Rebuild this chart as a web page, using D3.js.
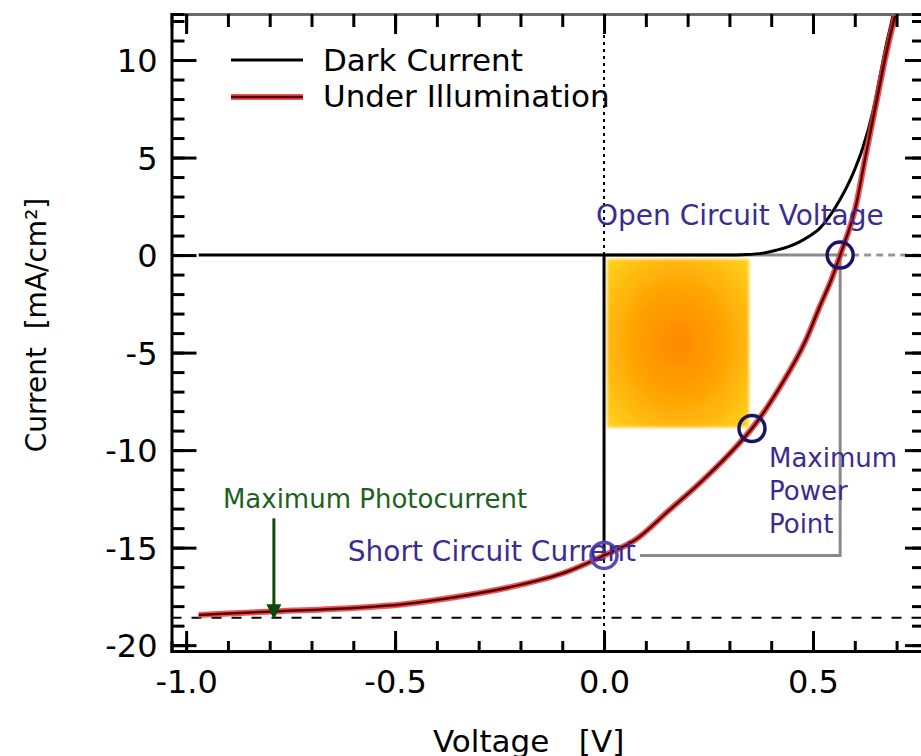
<!DOCTYPE html>
<html>
<head>
<meta charset="utf-8">
<script src="https://cdn.jsdelivr.net/npm/d3@7"></script>
<style>
  html, body { margin: 0; padding: 0; background: #fff; }
  svg { display: block; font-family: "DejaVu Sans", sans-serif; }
</style>
</head>
<body>
<svg id="chart" width="921" height="756"></svg>
<script>
// values
var voltageTicks = [-1.0, -0.5, 0.0, 0.5];
var voltageLabels = ['-1.0', '-0.5', '0.0', '0.5'];
var currentTicks = [-20, -15, -10, -5, 0, 5, 10];

var darkV = [-0.97, 0.30, 0.332, 0.38, 0.412, 0.44, 0.468, 0.49, 0.516, 0.564, 0.596, 0.62, 0.644, 0.66, 0.676, 0.688, 0.70];
var darkI = [0, 0, 0.02, 0.1, 0.25, 0.42, 0.68, 0.95, 1.37, 2.82, 4.19, 5.55, 7.44, 9.14, 10.86, 11.96, 13.2];

var lightV = [-0.97, -0.9, -0.79, -0.6, -0.48, -0.35, -0.22, -0.09, 0, 0.075, 0.155, 0.236, 0.315, 0.354, 0.42, 0.483, 0.516, 0.545, 0.565, 0.604, 0.624, 0.64, 0.656, 0.672, 0.692, 0.705];
var lightI = [-18.45, -18.38, -18.27, -18.1, -17.9, -17.52, -17.0, -16.25, -15.4, -14.6, -13.1, -11.55, -9.85, -8.89, -6.8, -4.36, -2.65, -1.2, 0, 2.65, 4.87, 6.58, 8.29, 10.0, 11.88, 13.0];

var isc = -15.4, voc = 0.565, vmp = 0.354, imp = -8.89;
var photoCurrent = -18.6, arrowV = -0.79, arrowTop = -13.5;

var svg = d3.select('#chart');
var plotLeft = 171.5, plotTop = 14, plotRight = 925, plotBottom = 651;

var x = d3.scaleLinear().domain([-1.035, 0.768]).range([plotLeft, plotRight]);
var y = d3.scaleLinear().domain([-20.3, 12.36]).range([plotBottom, plotTop]);

var defs = svg.append('defs');
defs.append('clipPath').attr('id', 'plot')
  .append('rect').attr('x', plotLeft).attr('y', plotTop)
  .attr('width', plotRight - plotLeft).attr('height', plotBottom - plotTop);

var grad = defs.append('radialGradient').attr('id', 'glow')
  .attr('cx', '50%').attr('cy', '50%').attr('r', '70%');
grad.append('stop').attr('offset', '0%').attr('stop-color', '#ff8800');
grad.append('stop').attr('offset', '45%').attr('stop-color', '#ffa200');
grad.append('stop').attr('offset', '100%').attr('stop-color', '#ffd21e');

defs.append('filter').attr('id', 'soft')
  .append('feGaussianBlur').attr('stdDeviation', 1.5);

defs.append('marker').attr('id', 'arrow')
  .attr('viewBox', '0 0 10 10').attr('refX', 9).attr('refY', 5)
  .attr('markerWidth', 5).attr('markerHeight', 5).attr('orient', 'auto')
  .append('path').attr('d', 'M0,0L10,5L0,10z').attr('fill', '#0b4a0b');

var plot = svg.append('g').attr('clip-path', 'url(#plot)');

// power rectangle
plot.append('rect')
  .attr('x', x(0) + 3).attr('y', y(0) + 4)
  .attr('width', x(vmp) - x(0) - 6).attr('height', y(imp) - y(0) - 5)
  .attr('fill', 'url(#glow)')
  .attr('filter', 'url(#soft)');

// reference lines
plot.append('line')
  .attr('x1', x(0)).attr('x2', x(0)).attr('y1', plotTop).attr('y2', plotBottom)
  .style('stroke', '#000').style('stroke-width', 2).style('stroke-dasharray', '3,4');

plot.append('line')
  .attr('x1', plotLeft).attr('x2', plotRight).attr('y1', y(photoCurrent)).attr('y2', y(photoCurrent))
  .style('stroke', '#000').style('stroke-width', 2).style('stroke-dasharray', '10,10');

plot.append('line')
  .attr('x1', x(voc)).attr('x2', plotRight).attr('y1', y(0)).attr('y2', y(0))
  .style('stroke', '#999').style('stroke-width', 3).style('stroke-dasharray', '7,5');

// grey Isc / Voc box
var sccLabel = svg.append('text')
  .attr('x', x(0) + 32).attr('y', y(isc) + 6)
  .attr('text-anchor', 'end')
  .style('font-size', '28px').style('fill', '#3b2c8f')
  .text('Short Circuit Current');
var sccEnd = x(0) + 36;

plot.append('path')
  .attr('d', 'M' + x(0) + ',' + y(0) + 'H' + x(voc) + 'V' + y(isc) + 'H' + sccEnd)
  .style('fill', 'none').style('stroke', '#8a8a8a').style('stroke-width', 3);

plot.append('line')
  .attr('x1', x(0)).attr('x2', x(0)).attr('y1', y(0)).attr('y2', y(isc))
  .style('stroke', '#000').style('stroke-width', 3);

// curves
var line = d3.line()
  .x(function(d) { return x(d[0]); })
  .y(function(d) { return y(d[1]); })
  .curve(d3.curveMonotoneX);

var dark = d3.zip(darkV, darkI);
var light = d3.zip(lightV, lightI);

plot.append('path').datum(dark).attr('d', line)
  .style('fill', 'none').style('stroke', '#000').style('stroke-width', 3);

plot.append('path').datum(light).attr('d', line)
  .style('fill', 'none').style('stroke', '#e8383a').style('stroke-width', 6).style('stroke-opacity', 0.85);
plot.append('path').datum(light).attr('d', line)
  .style('fill', 'none').style('stroke', '#5c0000').style('stroke-width', 2.5);

// photocurrent arrow
svg.append('line')
  .attr('x1', x(arrowV)).attr('x2', x(arrowV))
  .attr('y1', y(arrowTop)).attr('y2', y(photoCurrent))
  .attr('marker-end', 'url(#arrow)')
  .style('stroke', '#0b4a0b').style('stroke-width', 3);

// key points
var points = [[0, isc, '#5a48b8'], [vmp, imp, '#1a1466'], [voc, 0, '#1a1466']];
svg.selectAll('circle.pt')
  .data(points).enter()
  .append('circle')
  .attr('class', 'pt')
  .attr('cx', function(d) { return x(d[0]); })
  .attr('cy', function(d) { return y(d[1]); })
  .attr('r', 13)
  .style('fill', 'none')
  .style('stroke', function(d) { return d[2]; })
  .style('stroke-width', 3.5);

sccLabel.raise();

// annotations
svg.append('text')
  .attr('x', x(0) - 8).attr('y', y(0) - 30)
  .style('font-size', '28px').style('fill', '#3b2c8f')
  .text('Open Circuit Voltage');

var mpp = svg.append('text')
  .attr('x', x(vmp) + 17).attr('y', y(imp) + 39)
  .style('font-size', '26px').style('fill', '#3b2c8f');
['Maximum', 'Power', 'Point'].forEach(function(t, i) {
  mpp.append('tspan').attr('x', x(vmp) + 17).attr('dy', i ? 33 : 0).text(t);
});

svg.append('text')
  .attr('x', x(arrowV) - 51).attr('y', y(arrowTop) - 10)
  .style('font-size', '26px').style('fill', '#1f5f1f')
  .text('Maximum Photocurrent');

// axes with inward ticks
function styleAxis(g) {
  g.selectAll('.tick line').style('stroke', '#000').style('stroke-width', 3);
  g.selectAll('.domain').style('stroke-width', 3);
  g.selectAll('text').style('font-size', '32px').style('fill', '#000')
    .style('font-family', '"DejaVu Sans", sans-serif');
}

var minorV = d3.range(-10, 8).map(function(d) { return d / 10; });
var minorI = d3.range(-20, 13);

var bottomAxis = svg.append('g').attr('transform', 'translate(0,' + plotBottom + ')');
bottomAxis.call(d3.axisBottom(x).tickValues(minorV).tickSize(-10).tickFormat(''));
bottomAxis.append('g').call(d3.axisBottom(x).tickValues(voltageTicks).tickSize(-20)
  .tickFormat(function(d, i) { return voltageLabels[i]; }));
styleAxis(bottomAxis);
bottomAxis.selectAll('.domain').style('stroke', '#000');
bottomAxis.selectAll('g g .domain').remove();
bottomAxis.selectAll('text').attr('y', 42).attr('dy', 0);

var topAxis = svg.append('g').attr('transform', 'translate(0,' + plotTop + ')');
topAxis.call(d3.axisTop(x).tickValues(minorV).tickSize(-13).tickFormat(''));
topAxis.append('g').call(d3.axisTop(x).tickValues(voltageTicks).tickSize(-20).tickFormat(''));
styleAxis(topAxis);
topAxis.selectAll('.domain').style('stroke', '#6a6a6a');
topAxis.selectAll('g g .domain').remove();

var leftAxis = svg.append('g').attr('transform', 'translate(' + plotLeft + ',0)');
leftAxis.call(d3.axisLeft(y).tickValues(minorI).tickSize(-13).tickFormat(''));
leftAxis.append('g').call(d3.axisLeft(y).tickValues(currentTicks).tickSize(-25)
  .tickFormat(function(d) { return String(d); }));
styleAxis(leftAxis);
leftAxis.selectAll('.domain').style('stroke', '#000');
leftAxis.selectAll('g g .domain').remove();
leftAxis.selectAll('text').attr('x', -14).attr('dy', '0.36em');

var rightAxis = svg.append('g').attr('transform', 'translate(' + plotRight + ',0)');
rightAxis.call(d3.axisRight(y).tickValues(minorI).tickSize(-13).tickFormat(''));
rightAxis.append('g').call(d3.axisRight(y).tickValues(currentTicks).tickSize(-20).tickFormat(''));
styleAxis(rightAxis);
rightAxis.selectAll('g g .domain').remove();

// legend
var legend = svg.append('g');
legend.append('line').attr('x1', 231).attr('x2', 303).attr('y1', 60).attr('y2', 60)
  .style('stroke', '#000').style('stroke-width', 3);
legend.append('line').attr('x1', 231).attr('x2', 303).attr('y1', 97).attr('y2', 97)
  .style('stroke', '#e8383a').style('stroke-width', 6).style('stroke-opacity', 0.85);
legend.append('line').attr('x1', 231).attr('x2', 303).attr('y1', 97).attr('y2', 97)
  .style('stroke', '#5c0000').style('stroke-width', 2.5);
legend.append('text').attr('x', 323).attr('y', 71).style('font-size', '31px').text('Dark Current');
legend.append('text').attr('x', 323).attr('y', 107).style('font-size', '31px').text('Under Illumination');

// axis titles
svg.append('text')
  .attr('x', 433).attr('y', 752)
  .style('font-size', '31px').style('white-space', 'pre')
  .text('Voltage   [V]');

svg.append('text')
  .attr('transform', 'translate(46,325) rotate(-90)')
  .attr('text-anchor', 'middle')
  .style('font-size', '28px').style('white-space', 'pre')
  .text('Current  [mA/cm²]');
</script>
</body>
</html>
